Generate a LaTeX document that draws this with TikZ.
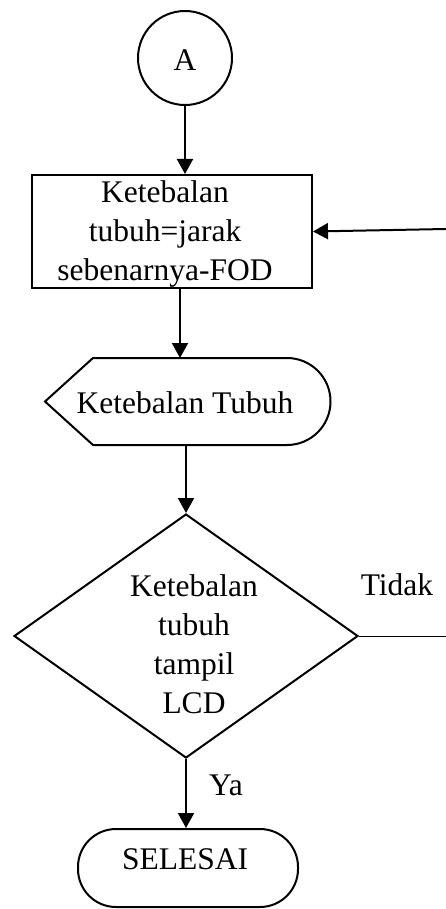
\documentclass[tikz,border=0pt]{standalone}
\usepackage{fontspec}
\setmainfont{Liberation Serif}
\usetikzlibrary{arrows.meta,shapes.geometric}
\begin{document}
\begin{tikzpicture}[x=1pt,y=-1pt,
  font=\fontsize{31.5}{39}\selectfont,
  line/.style={line width=2pt},
  arr/.style={line width=2pt,-{Triangle[width=16pt,length=15pt]}},
  txt/.style={inner sep=0pt,align=center,anchor=base}]
\useasboundingbox (0,0) rectangle (446,909);
% start connector
\node[draw,line,circle,minimum size=94pt,inner sep=0pt] (A) at (185,58) {};
\node[txt] (Atext) at (185,71) {A};
% process box
\node[draw,line,minimum width=280pt,minimum height=113pt,inner sep=0pt] (box) at (172,231.5) {};
\begin{scope}
\clip (33,176) rectangle (311,286);
\node[txt] (boxtext) at (165,280) {Ketebalan\\tubuh=jarak\\sebenarnya-FOD};
\end{scope}
% display shape
\coordinate (dtl) at (93,358);
\coordinate (dl) at (45,401.5);
\coordinate (dbl) at (93,445);
\draw[line] (dl) -- (dtl) -- (287,358) arc[start angle=90,end angle=-90,radius=43.5pt] -- (dbl) -- cycle;
\node[txt] (disp) at (185,413) {Ketebalan Tubuh};
\coordinate (disptop) at (180,358);
\coordinate (dispbot) at (186,445);
% decision
\node[draw,line,diamond,minimum width=344pt,minimum height=244pt,inner sep=0pt] (dec) at (186,636) {};
\node[txt] (dectext) at (194,713) {Ketebalan\\tubuh\\tampil\\LCD};
% terminator
\node[draw,line,rounded corners=38pt,minimum width=220pt,minimum height=78pt,inner sep=0pt] (end) at (188,868) {};
\node[txt] (endtext) at (185,869) {SELESAI};
% connectors
\draw[arr] (A.south) -- (A.south |- box.north);
\draw[arr] (disptop |- box.south) -- (disptop);
\draw[arr] (dispbot) -- (dec.north);
\draw[arr] (dec.south) -- (dec.south |- end.north);
\coordinate (fb) at (446,229);
\draw[arr] (fb) -- (box.east);
\coordinate (no) at (446,636);
\draw[line width=0.9pt] (dec.east) -- (no);
% labels
\node[txt] (tidak) at (397,595) {Tidak};
\node[txt] (ya) at (226,795) {Ya};
\end{tikzpicture}
\end{document}
